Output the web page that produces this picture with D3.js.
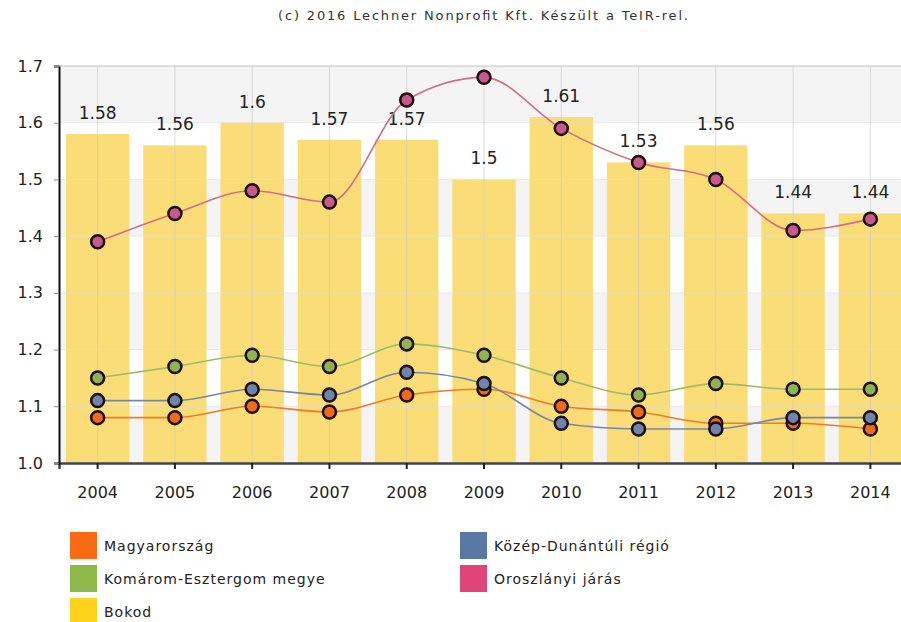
<!DOCTYPE html>
<html>
<head>
<meta charset="utf-8">
<script src="https://cdn.jsdelivr.net/npm/d3@7"></script>
<style>
  body { margin: 0; background: #fff; }
  svg { display: block; font-family: Tahoma, "DejaVu Sans", sans-serif; }
</style>
</head>
<body>
<div id="chart"></div>
<script>
// data
const years = ["2004","2005","2006","2007","2008","2009","2010","2011","2012","2013","2014"];
const bokod = [1.58, 1.56, 1.6, 1.57, 1.57, 1.5, 1.61, 1.53, 1.56, 1.44, 1.44];
const magyarorszag = [1.08, 1.08, 1.10, 1.09, 1.12, 1.13, 1.10, 1.09, 1.07, 1.07, 1.06];
const komarom = [1.15, 1.17, 1.19, 1.17, 1.21, 1.19, 1.15, 1.12, 1.14, 1.13, 1.13];
const kozep = [1.11, 1.11, 1.13, 1.12, 1.16, 1.14, 1.07, 1.06, 1.06, 1.08, 1.08];
const oroszlany = [1.39, 1.44, 1.48, 1.46, 1.64, 1.68, 1.59, 1.53, 1.50, 1.41, 1.43];
const yTicks = [1.0, 1.1, 1.2, 1.3, 1.4, 1.5, 1.6, 1.7];

const lineSeries = [
  {name: "Magyarország", values: magyarorszag, color: "#f06a1c", line: "#ef7a2a"},
  {name: "Komárom-Esztergom megye", values: komarom, color: "#8fb255", line: "#9cbc6a"},
  {name: "Közép-Dunántúli régió", values: kozep, color: "#6d84ad", line: "#7388a8"},
  {name: "Oroszlányi járás", values: oroszlany, color: "#c65a8c", line: "#cf6f85"}
];

const legendItems = [
  {name: "Magyarország", color: "#fb6a14", col: 0, row: 0},
  {name: "Komárom-Esztergom megye", color: "#8dba4b", col: 0, row: 1},
  {name: "Bokod", color: "#ffd31c", col: 0, row: 2},
  {name: "Közép-Dunántúli régió", color: "#5a78a4", col: 1, row: 0},
  {name: "Oroszlányi járás", color: "#e0457a", col: 1, row: 1}
];

const W = 901, H = 622;
const margin = {top: 66, left: 59, bottom: 159};
const plotW = 850;   // runs past the right edge, like the original
const plotH = H - margin.top - margin.bottom;

const svg = d3.select("#chart").append("svg")
  .attr("width", W).attr("height", H);

svg.append("text")
  .attr("x", 483).attr("y", 20)
  .attr("text-anchor", "middle")
  .attr("textLength", 410)
  .attr("lengthAdjust", "spacing")
  .style("font-size", "13px").style("fill", "#333")
  .text("(c) 2016 Lechner Nonprofit Kft. Készült a TeIR-rel.");

const g = svg.append("g")
  .attr("transform", "translate(" + margin.left + "," + margin.top + ")");

const x = d3.scaleBand().domain(years).range([0, plotW]).paddingInner(0.18).paddingOuter(0.09);
const xc = d => x(d) + x.bandwidth() / 2;
const y = d3.scaleLinear().domain([1.0, 1.7]).range([plotH, 0]);

// alternating background bands
g.selectAll("rect.band")
  .data(yTicks.slice(0, -1))
  .enter().append("rect")
  .attr("class", "band")
  .attr("x", 0)
  .attr("y", d => y(d + 0.1))
  .attr("width", plotW)
  .attr("height", d => y(d) - y(d + 0.1))
  .style("fill", (d, i) => (i % 2 === 0) ? "#f4f4f4" : "#ffffff");

// bars
g.selectAll("rect.bar")
  .data(bokod)
  .enter().append("rect")
  .attr("class", "bar")
  .attr("x", (d, i) => x(years[i]))
  .attr("y", d => y(d))
  .attr("width", x.bandwidth())
  .attr("height", d => plotH - y(d))
  .style("fill", "#fada6a")
  .style("opacity", 0.92);

// grid lines
g.selectAll("line.hgrid")
  .data(yTicks)
  .enter().append("line")
  .attr("x1", 0).attr("x2", plotW)
  .attr("y1", d => y(d)).attr("y2", d => y(d))
  .style("stroke", "#ddd").style("stroke-opacity", 0.6);

g.selectAll("line.vgrid")
  .data(years)
  .enter().append("line")
  .attr("x1", d => xc(d)).attr("x2", d => xc(d))
  .attr("y1", 0).attr("y2", plotH)
  .style("stroke", "#ccc").style("stroke-opacity", 0.7);

// bar labels
g.selectAll("text.barlabel")
  .data(bokod)
  .enter().append("text")
  .attr("x", (d, i) => xc(years[i]))
  .attr("y", d => y(d) - 15)
  .attr("text-anchor", "middle")
  .style("font-size", "17px").style("fill", "#222")
  .text(d => d);

// axes
g.append("g")
  .attr("transform", "translate(0," + plotH + ")")
  .call(d3.axisBottom(x).tickSize(6).tickPadding(18))
  .call(a => a.select(".domain").style("stroke", "#444").style("stroke-width", 2.5))
  .call(a => a.selectAll(".tick line").style("stroke", "#222").style("stroke-width", 2))
  .call(a => a.selectAll("text").style("font-size", "16px").style("fill", "#222")
    .style("font-family", "Tahoma, 'DejaVu Sans', sans-serif"));

g.append("g")
  .call(d3.axisLeft(y).tickValues(yTicks).tickFormat(d3.format(".1f")).tickSize(5).tickPadding(11))
  .call(a => a.select(".domain").style("stroke", "#111").style("stroke-width", 2))
  .call(a => a.selectAll(".tick line").style("stroke", "#888"))
  .call(a => a.selectAll("text").style("font-size", "16px").style("fill", "#222")
    .style("font-family", "Tahoma, 'DejaVu Sans', sans-serif"));

g.append("line")
  .attr("x1", 0).attr("x2", plotW).attr("y1", 0).attr("y2", 0)
  .style("stroke", "#ccc");

// lines and points
const line = d3.line()
  .x((d, i) => xc(years[i]))
  .y(d => y(d))
  .curve(d3.curveMonotoneX);

lineSeries.forEach(s => {
  g.append("path")
    .datum(s.values)
    .attr("d", line)
    .style("fill", "none")
    .style("stroke", s.line)
    .style("stroke-width", 1.6);
});

lineSeries.forEach(s => {
  g.selectAll(null)
    .data(s.values)
    .enter().append("circle")
    .attr("cx", (d, i) => xc(years[i]))
    .attr("cy", d => y(d))
    .attr("r", 6.5)
    .style("fill", s.color)
    .style("stroke", "#1e0e0e")
    .style("stroke-width", 2.5);
});

// legend
const legend = svg.append("g");
const lg = legend.selectAll("g")
  .data(legendItems)
  .enter().append("g")
  .attr("transform", d => "translate(" + (d.col ? 460 : 70) + "," + (532 + d.row * 33) + ")");

lg.append("rect")
  .attr("width", 27).attr("height", 27)
  .style("fill", d => d.color);

lg.append("text")
  .attr("x", 34).attr("y", 19)
  .style("font-size", "14px").style("letter-spacing", "1px").style("fill", "#222")
  .text(d => d.name);
</script>
</body>
</html>
